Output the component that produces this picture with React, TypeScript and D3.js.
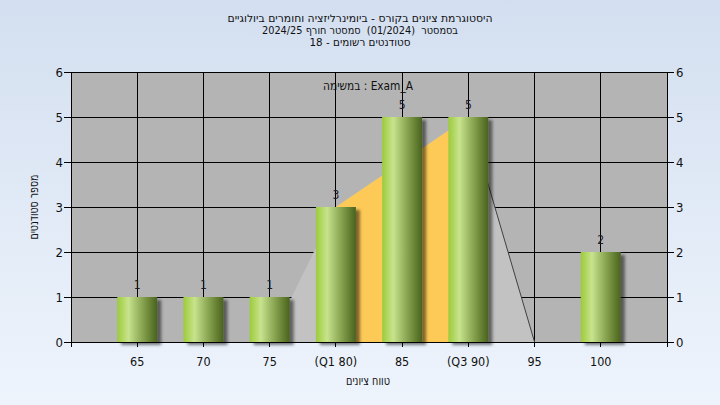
import React from "react";
import * as d3 from "d3";

const scores = [65, 70, 75, 80, 85, 90, 95, 100];
const tickLabels = ["65", "70", "75", "(Q1 80)", "85", "(Q3 90)", "95", "100"];
const counts = [1, 1, 1, 3, 5, 5, 0, 2];
const curveScores = [75, 80, 85, 90, 95];
const curveValues = [0, 3, 4, 5, 0];
const q1 = 80;
const q3 = 90;
const yTicks = [0, 1, 2, 3, 4, 5, 6];
const titleLines = [
  "היסטוגרמת ציונים בקורס - ביומינרליזציה וחומרים ביולוגיים",
  "בסמסטר  (01/2024)  סמסטר חורף 2024/25",
  "סטודנטים רשומים - 18",
];
const legendText = "במשימה : Exam_A";
const xTitle = "טווח ציונים";
const yTitle = "מספר סטודנטים";

const W = 720, H = 405;
const L = 71, R = 667, T = 72, B = 342;
const FONT = "'Liberation Sans Narrow', 'Arial Narrow', 'DejaVu Sans Condensed', sans-serif";

export default function App() {
  const x = d3.scaleLinear().domain([60, 105]).range([L, R]);
  const y = d3.scaleLinear().domain([0, 6]).range([B, T]);
  const barW = 40;

  const curve = curveScores.map((s, i) => ({ s, v: curveValues[i] }));
  const area = d3.area<{ s: number; v: number }>()
    .x(d => x(d.s)).y0(y(0)).y1(d => y(d.v));
  const iqr = curve.filter(d => d.s >= q1 && d.s <= q3);
  const right = curve.filter(d => d.s >= q3);
  const line = d3.line<{ s: number; v: number }>().x(d => x(d.s)).y(d => y(d.v));

  const titleW = [265, 196, 101];

  return (
    <svg width={W} height={H} style={{ position: "absolute", left: 0, top: 0, display: "block" }} fontFamily={FONT}>
      <defs>
        <linearGradient id="bg" x1="0" y1="0" x2="0" y2="1">
          <stop offset="0" stopColor="#d3dff0" />
          <stop offset="1" stopColor="#eef4fc" />
        </linearGradient>
        <linearGradient id="bar" x1="0" y1="0" x2="1" y2="0">
          <stop offset="0" stopColor="#9ccb3b" />
          <stop offset="0.28" stopColor="#c8e38d" />
          <stop offset="0.55" stopColor="#97b25e" />
          <stop offset="0.8" stopColor="#6a8636" />
          <stop offset="1" stopColor="#4a6220" />
        </linearGradient>
        <filter id="sh" x="-20%" y="-20%" width="150%" height="150%">
          <feDropShadow dx="4" dy="3" stdDeviation="1.8" floodColor="#000" floodOpacity="0.5" />
        </filter>
      </defs>
      <rect x={0} y={0} width={W} height={H} fill="url(#bg)" />

      {titleLines.map((t, i) => (
        <text key={i} x={360} y={22 + i * 12} textAnchor="middle" fontSize={10.5} fill="#111"
          direction="rtl" style={{ whiteSpace: "pre" }} textLength={titleW[i]} lengthAdjust="spacingAndGlyphs">{t}</text>
      ))}

      <rect x={L} y={T} width={R - L} height={B - T} fill="#b4b4b4" />
      {yTicks.map(t => (
        <line key={"h" + t} x1={L} x2={R} y1={y(t)} y2={y(t)} stroke="#000" strokeWidth={1} shapeRendering="crispEdges" />
      ))}
      {scores.map(s => (
        <line key={"v" + s} x1={x(s)} x2={x(s)} y1={T} y2={B} stroke="#000" strokeWidth={1} shapeRendering="crispEdges" />
      ))}

      <path d={area(curve) || ""} fill="#c2c2c2" />
      <path d={area(iqr) || ""} fill="#fdca57" />
      <path d={line(right) || ""} fill="none" stroke="#404040" strokeWidth={1} />

      <line x1={L} x2={L} y1={T} y2={B + 5} stroke="#000" shapeRendering="crispEdges" />
      <line x1={R} x2={R} y1={T} y2={B + 5} stroke="#000" shapeRendering="crispEdges" />
      <line x1={L} x2={R} y1={B} y2={B} stroke="#000" shapeRendering="crispEdges" />

      {scores.map((s, i) => counts[i] > 0 ? (
        <rect key={"b" + s} x={x(s) - barW / 2} y={y(counts[i])} width={barW} height={y(0) - y(counts[i])}
          fill="url(#bar)" filter="url(#sh)" />
      ) : null)}
      {scores.map((s, i) => counts[i] > 0 ? (
        <text key={"l" + s} x={x(s)} y={y(counts[i]) - 8} textAnchor="middle" fontSize={12} fill="#1a1a2a">{counts[i]}</text>
      ) : null)}

      {yTicks.map(t => (
        <g key={"yt" + t}>
          <line x1={L - 7} x2={L} y1={y(t)} y2={y(t)} stroke="#000" shapeRendering="crispEdges" />
          <line x1={R} x2={R + 7} y1={y(t)} y2={y(t)} stroke="#000" shapeRendering="crispEdges" />
          <text x={L - 8} y={y(t) + 5} textAnchor="end" fontSize={13} fill="#111">{t}</text>
          <text x={R + 9} y={y(t) + 5} textAnchor="start" fontSize={13} fill="#111">{t}</text>
        </g>
      ))}
      {scores.map((s, i) => (
        <g key={"xt" + s}>
          <line x1={x(s)} x2={x(s)} y1={B} y2={B + 5} stroke="#000" shapeRendering="crispEdges" />
          <text x={x(s)} y={366} textAnchor="middle" fontSize={12.5} fill="#111">{tickLabels[i]}</text>
        </g>
      ))}

      <text x={368} y={90} textAnchor="middle" fontSize={12} fill="#111" textLength={90} lengthAdjust="spacingAndGlyphs">{legendText}</text>
      <text x={368} y={385} textAnchor="middle" fontSize={12} fill="#111" direction="rtl" textLength={44} lengthAdjust="spacingAndGlyphs">{xTitle}</text>
      <text transform="translate(38,207) rotate(-90)" x={0} y={0} textAnchor="middle" fontSize={12} fill="#111" direction="rtl" textLength={65} lengthAdjust="spacingAndGlyphs">{yTitle}</text>
    </svg>
  );
}
